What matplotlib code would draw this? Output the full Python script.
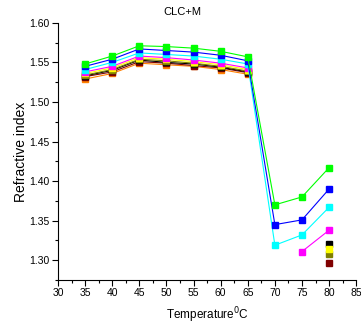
import matplotlib
matplotlib.use('Agg')
import matplotlib.pyplot as plt
from matplotlib.ticker import MultipleLocator
import numpy as np

nan = np.nan

temperature = [35, 40, 45, 50, 55, 60, 65, 70, 75, 80]

# refractive index of each series, top to bottom
n_green   = [1.548, 1.558, 1.571, 1.570, 1.568, 1.564, 1.557, 1.370, 1.380, 1.417]
n_blue    = [1.545, 1.554, 1.567, 1.565, 1.563, 1.559, 1.552, 1.345, 1.351, 1.390]
n_cyan    = [1.541, 1.550, 1.562, 1.560, 1.558, 1.554, 1.548, 1.319, 1.332, 1.367]
n_magenta = [1.538, 1.545, 1.558, 1.556, 1.553, 1.549, 1.543, nan, 1.311, 1.338]
n_yellow  = [1.536, 1.543, 1.556, 1.554, 1.551, 1.547, 1.541, nan, nan, 1.314]
n_olive   = [1.534, 1.541, 1.554, 1.552, 1.549, 1.545, 1.539, nan, nan, 1.308]
n_black   = [1.533, 1.540, 1.553, 1.550, 1.548, 1.544, 1.538, nan, nan, 1.321]
n_darkred = [1.532, 1.538, 1.551, 1.549, 1.546, 1.543, 1.537, nan, nan, 1.296]
n_orange  = [1.529, 1.536, 1.549, 1.547, 1.545, 1.541, 1.535, nan, nan, nan]

series = [
    (n_orange, '#FF8000'),
    (n_darkred, '#800000'),
    (n_black, '#000000'),
    (n_olive, '#808000'),
    (n_yellow, '#FFFF00'),
    (n_magenta, '#FF00FF'),
    (n_cyan, '#00FFFF'),
    (n_blue, '#0000FF'),
    (n_green, '#00FF00'),
]

plt.rcParams['font.family'] = ['Liberation Sans', 'DejaVu Sans']

fig = plt.figure(figsize=(3.61, 3.26), dpi=100)
ax = fig.add_axes([0.1607, 0.141, 0.826, 0.789])

for vals, col in series:
    ax.plot(temperature, vals, color=col, lw=0.8, marker='s', ms=4.5,
            mec=col, mfc=col)

ax.set_xlim(30, 85)
ax.set_ylim(1.275, 1.60)
ax.xaxis.set_major_locator(MultipleLocator(5))
ax.xaxis.set_minor_locator(MultipleLocator(2.5))
ax.yaxis.set_minor_locator(MultipleLocator(0.025))
yt = np.arange(1.30, 1.601, 0.05)
ax.set_yticks(yt)
ax.set_yticklabels([f'{v:.2f}' for v in yt])

ax.spines['top'].set_visible(False)
ax.spines['right'].set_visible(False)
ax.spines['left'].set_linewidth(0.8)
ax.spines['bottom'].set_linewidth(0.8)
ax.tick_params(which='major', direction='out', length=4, width=0.8,
               labelsize=7.5, pad=2)
ax.tick_params(which='minor', direction='out', length=2.5, width=0.8)

fig.text(182 / 361, 1 - 12 / 326, 'CLC+M', fontsize=8, ha='center', va='center')
ax.set_xlabel('Temperature$^0$C', fontsize=8.5, labelpad=5)
ax.set_ylabel('Refractive index', fontsize=10, labelpad=1)

plt.savefig('out.png', dpi=100)
